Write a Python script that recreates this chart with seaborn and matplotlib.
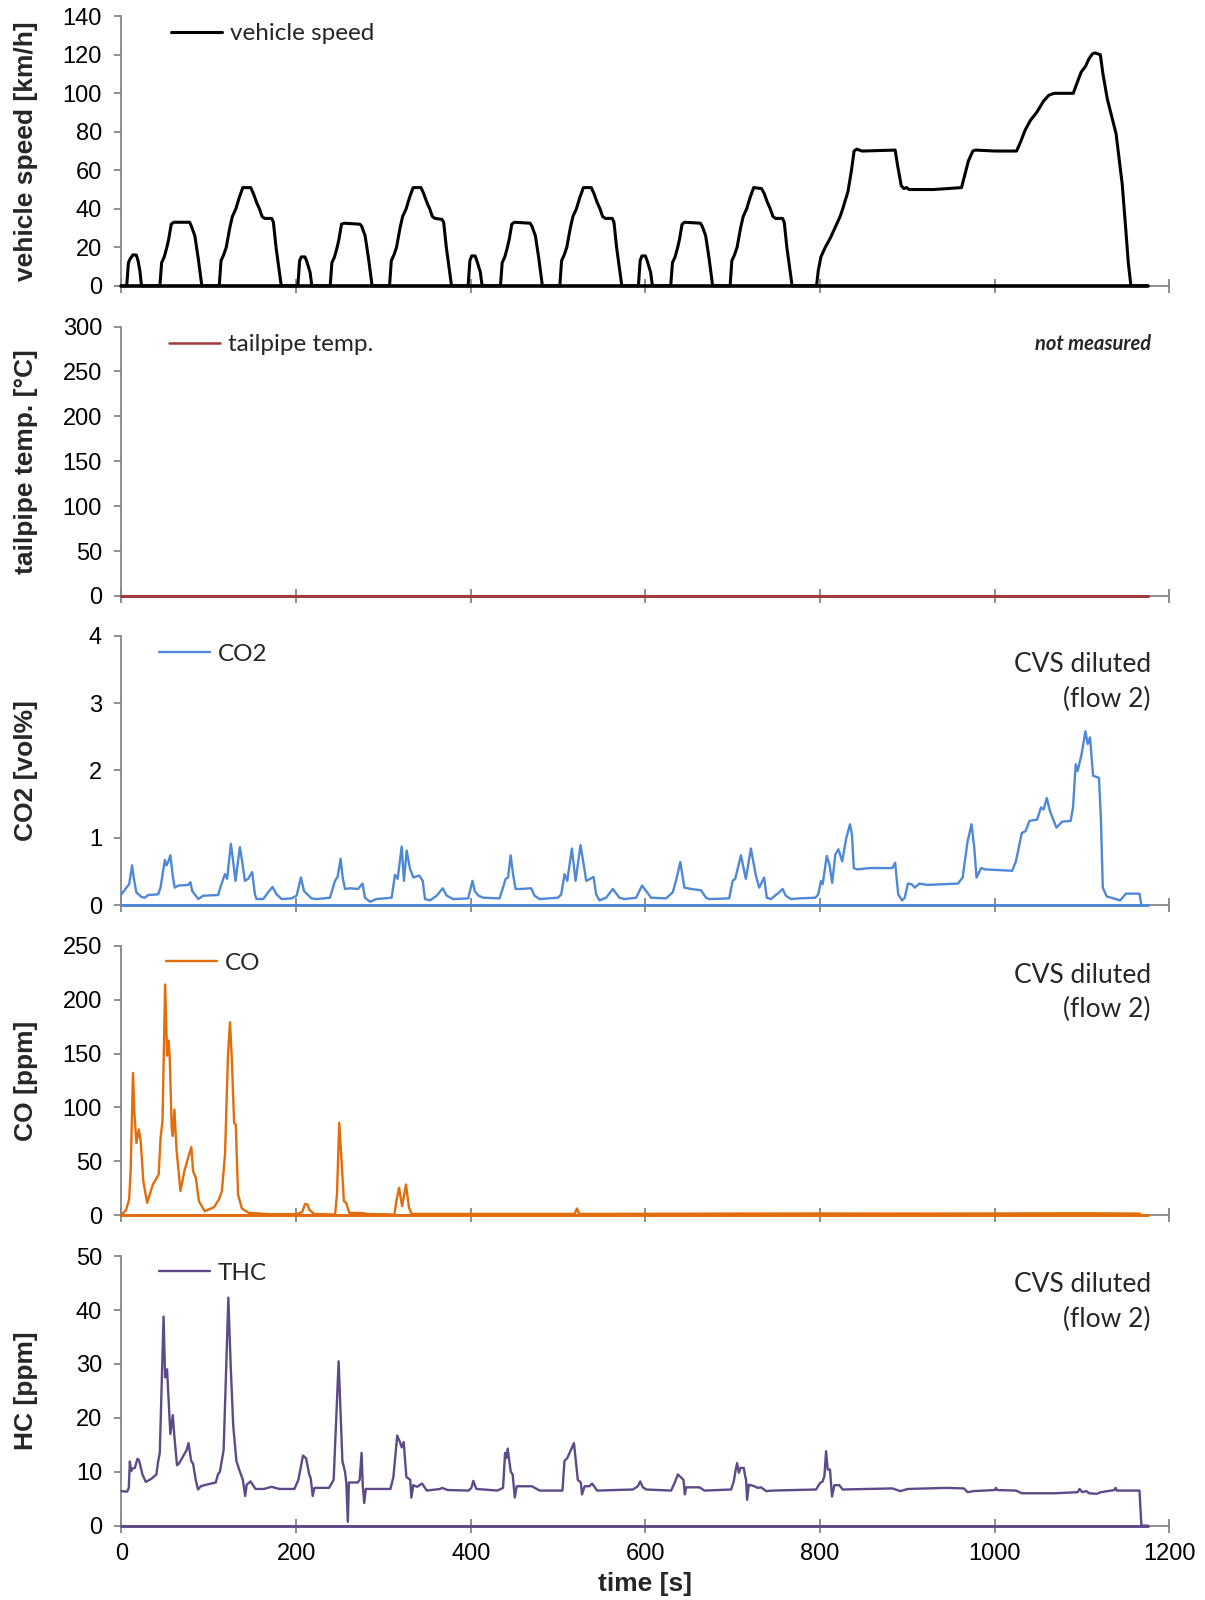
import numpy as np
import matplotlib
matplotlib.use("Agg")
import matplotlib.pyplot as plt
import seaborn as sns

# ---------------- data ----------------
speed_t = [0, 6, 8, 10, 13, 17, 19, 21, 23, 44, 46, 49, 52, 54, 57, 60, 78, 80, 84, 88, 92,
           112, 114, 117, 120, 124, 127, 131, 135, 139, 148, 151, 155, 158, 161, 164, 172, 174, 177, 180, 183,
           202, 204, 206, 210, 212, 216, 218, 239, 241, 244, 247, 249, 252, 255, 273, 275, 279, 283, 287,
           307, 309, 312, 315, 319, 322, 326, 330, 334, 343, 346, 350, 353, 356, 359, 367, 369, 372, 375, 378,
           397, 399, 401, 405, 407, 411, 413, 434, 436, 439, 442, 444, 447, 450, 468, 470, 474, 478, 482,
           502, 504, 507, 510, 514, 517, 521, 525, 529, 538, 541, 545, 548, 551, 554, 562, 564, 567, 570, 573,
           592, 594, 596, 600, 602, 606, 608, 629, 631, 634, 637, 639, 642, 645, 663, 665, 669, 673, 677,
           697, 699, 702, 705, 709, 712, 716, 720, 724, 733, 736, 740, 743, 746, 749, 757, 759, 762, 765, 768,
           796, 798, 801, 806, 812, 818, 823, 826, 832, 836, 839, 842, 848, 886, 889, 893, 896, 899, 902, 930,
           962, 966, 970, 975, 978, 1000, 1025, 1029, 1035, 1041, 1048, 1056, 1062, 1068, 1090, 1094, 1099,
           1104, 1108, 1112, 1115, 1121, 1124, 1129, 1134, 1139, 1142, 1146, 1150, 1153, 1156, 1175]
speed_v = [0, 0, 12, 14, 16, 16, 13, 8, 0, 0, 12, 15, 20, 24, 32, 33, 33, 31, 26, 14, 0,
           0, 13, 16, 20, 30, 36, 40, 46, 51, 51, 48, 43, 40, 36, 35, 35, 33, 20, 10, 0,
           0, 13, 15, 15, 13, 7, 0, 0, 12, 15, 20, 24, 32, 32.5, 32, 31, 26, 14, 0,
           0, 13, 16, 20, 30, 36, 40, 46, 51, 51, 48, 43, 40, 36, 35, 34.5, 33, 20, 10, 0,
           0, 13, 15.5, 15.5, 13, 7, 0, 0, 12, 15, 20, 24, 32, 33, 32.5, 31, 26, 14, 0,
           0, 13, 16, 20, 30, 36, 40, 46, 51, 51, 48, 43, 40, 36, 35, 35, 33, 20, 10, 0,
           0, 13, 15.5, 15.5, 13, 7, 0, 0, 12, 15, 20, 24, 32, 33, 32.5, 31, 26, 14, 0,
           0, 13, 16, 20, 30, 36, 40, 46, 51, 50.5, 48, 43, 40, 36, 35, 35, 33, 20, 10, 0,
           0, 8, 15, 20, 25, 31, 36, 40, 49, 60, 70, 71, 70, 70.5, 62, 52, 50.5, 51, 50, 50,
           51, 58, 65, 70, 70.5, 70, 70, 74, 81, 86, 90, 96, 99, 100, 100, 105, 111,
           114, 118, 120.5, 121, 120, 110, 97, 88, 79, 68, 53, 30, 12, 0, 0]

temp_t = [0, 1175]
temp_v = [0, 0]

co2_t = [0, 5.7, 8.8, 12.2, 14, 17, 23, 26.7, 30.6, 42, 44.7, 49.7, 51.6, 53.5, 56, 59, 61, 65, 76.4, 79, 81, 88,
         93.6, 110.8, 112.7, 118.4, 121, 125.3, 128, 130.6, 135.6, 138.7, 141.3, 145, 149.7, 152.8, 154.7,
         162.4, 168, 173, 177.6, 183.4, 194.8, 200.6, 205.5, 209, 212.8, 217.7, 223.5, 238.8, 244.5, 247.5,
         251, 253.3, 256, 261.7, 271, 276, 278.9, 284.6, 292, 309.4, 313.2, 316.3, 320.9, 323.5, 326.6,
         330.4, 334.3, 341, 345, 347.6, 353.3, 361, 367.9, 372.5, 380, 397, 402, 404.6, 408.7, 414.5, 433,
         440, 442.7, 445.7, 448.4, 451.4, 458, 469.3, 473, 478.9, 499.8, 503.6, 507.4, 510.5, 515.8, 520,
         525.7, 529.5, 532.2, 536.8, 540.6, 543.6, 547.4, 555, 562.7, 570.3, 576, 589.4, 596.2, 600.8,
         606.5, 623.6, 631.3, 635, 640, 644.6, 652.2, 663.7, 669.4, 673.2, 696, 699.9, 702.9, 709.4, 715,
         720.8, 726.5, 730.3, 736, 739, 743.7, 753.2, 757, 760.8, 766.5, 776, 794.5, 798, 801, 803, 807.7,
         810.8, 813.9, 817.5, 821, 825.4, 829.8, 834.3, 836.5, 838.7, 843, 856.4, 883, 886, 889.5, 893.9,
         897, 900.6, 905, 908.5, 913.8, 922.7, 958, 963.3, 969, 973.5, 976.6, 979.2, 984.5, 989, 1020,
         1024.3, 1031, 1035.4, 1039.8, 1048.6, 1053, 1056, 1059.7, 1063.2, 1070.7, 1077.4, 1087, 1089.7,
         1092.8, 1095, 1099.5, 1103.9, 1106.5, 1109.2, 1112.7, 1119.4, 1121.6, 1123.8, 1128.2, 1143.7,
         1150.3, 1165.8, 1168, 1175]
co2_v = [0.16, 0.26, 0.31, 0.59, 0.41, 0.19, 0.12, 0.11, 0.15, 0.16, 0.26, 0.67, 0.59, 0.64, 0.74, 0.41, 0.26,
         0.29, 0.30, 0.34, 0.21, 0.09, 0.14, 0.15, 0.24, 0.46, 0.39, 0.91, 0.64, 0.36, 0.86, 0.61, 0.36, 0.39,
         0.49, 0.16, 0.09, 0.09, 0.19, 0.27, 0.16, 0.09, 0.10, 0.14, 0.41, 0.21, 0.16, 0.10, 0.09, 0.11, 0.36,
         0.42, 0.69, 0.41, 0.24, 0.25, 0.24, 0.32, 0.11, 0.05, 0.09, 0.11, 0.45, 0.39, 0.87, 0.36, 0.81, 0.54,
         0.41, 0.44, 0.36, 0.09, 0.07, 0.14, 0.25, 0.14, 0.09, 0.10, 0.36, 0.21, 0.14, 0.11, 0.10, 0.39, 0.41,
         0.74, 0.46, 0.24, 0.24, 0.25, 0.14, 0.09, 0.11, 0.16, 0.46, 0.36, 0.84, 0.36, 0.89, 0.59, 0.36, 0.39,
         0.42, 0.16, 0.07, 0.11, 0.24, 0.11, 0.09, 0.11, 0.29, 0.21, 0.11, 0.10, 0.19, 0.36, 0.64, 0.26, 0.24,
         0.22, 0.11, 0.09, 0.10, 0.36, 0.39, 0.74, 0.39, 0.84, 0.44, 0.26, 0.41, 0.11, 0.09, 0.19, 0.24, 0.14,
         0.09, 0.10, 0.11, 0.16, 0.36, 0.31, 0.73, 0.60, 0.33, 0.75, 0.83, 0.65, 0.98, 1.20, 1.05, 0.55, 0.53,
         0.55, 0.55, 0.63, 0.16, 0.07, 0.11, 0.32, 0.31, 0.26, 0.32, 0.30, 0.32, 0.41, 0.95, 1.20, 0.85, 0.41,
         0.55, 0.53, 0.51, 0.65, 1.07, 1.10, 1.25, 1.27, 1.45, 1.42, 1.59, 1.40, 1.15, 1.24, 1.25, 1.45, 2.09,
         1.99, 2.24, 2.58, 2.39, 2.49, 1.92, 1.89, 1.30, 0.26, 0.13, 0.07, 0.17, 0.17, 0.0, 0.0]

co_t = [0, 5.3, 8.8, 10.5, 13.2, 14.9, 17.1, 19.8, 22, 25, 29.4, 36, 42.6, 44.8, 47, 50, 52.3, 54, 55.3, 57.5,
        58.8, 60.6, 63.2, 67.6, 72, 76.4, 80, 82, 85.2, 88.7, 95.3, 106, 111.5, 115, 118.6, 122, 124.3, 126.5,
        129, 130.9, 133.5, 137.9, 145.8, 168, 200.7, 207, 210.3, 213, 215, 220.4, 244.6, 246.8, 249.4, 251.6,
        254.7, 257.3, 260.8, 277.5, 279.7, 312.6, 314.8, 317.9, 321.4, 325.8, 329.3, 332.4, 519, 521.6, 524.2,
        600, 700, 800, 900, 1000, 1100, 1166, 1168, 1175]
co_v = [0, 5, 14.6, 40.9, 132, 93.6, 67, 79.6, 68.8, 31.6, 11.5, 28.5, 37.8, 71.9, 87.4, 214, 148, 162, 146, 81,
        73.4, 98, 59.5, 22.3, 40.9, 53.3, 63.2, 40.9, 34.7, 13, 3.7, 7.4, 14.6, 22.3, 56.4, 149, 179, 143,
        85.8, 84, 19.2, 6.2, 2.2, 1, 1, 3, 10.5, 9.9, 5.3, 1.2, 0.6, 19.2, 85.8, 56.4,
        13, 11.5, 2.2, 1.9, 1.2, 0.6, 13, 25.4, 8.4, 28.5, 6.8, 1.2, 1.2, 6.2, 1.2,
        1.3, 1.5, 1.6, 1.5, 1.6, 1.8, 1.5, 0, 0]

hc_t = [0, 6.5, 8.4, 9.6, 11, 12.6, 15.3, 18.3, 20.2, 24, 27.9, 34.4, 40, 42, 43.9, 46.6, 48.2, 50, 52.2, 56,
        58.8, 60.5, 63.6, 65.8, 74.6, 76.8, 79.8, 82, 85, 87.7, 90.8, 97.4, 108, 110.5, 112.7, 117, 120, 122.4,
        125, 128, 131.6, 134.6, 139, 141.7, 143.4, 147.8, 153.5, 163, 172, 180.7, 198, 202.6, 207.9, 211.4,
        215, 216.7, 219, 221, 237.7, 243, 248.7, 253, 256, 257.5, 259.2, 260.5, 270.6, 272.8, 275, 276.3,
        278, 279.8, 308, 311.4, 315.8, 318.9, 321, 323.2, 326.3, 330.7, 332, 334.2, 338.6, 344.3, 349.6,
        365, 367, 373.5, 397.6, 400.7, 402.9, 406.4, 430.5, 437, 439.3, 440.6, 442.3, 445.8, 448, 450.4,
        452.6, 470, 479, 505, 507.3, 510.4, 516, 518.2, 522.6, 526, 527.4, 530.4, 535.7, 539, 544.7,
        585.7, 591.4, 594, 597.1, 601, 629.5, 633.4, 637.2, 641, 643.6, 645.2, 646.7, 662, 667.7, 698.2,
        701.2, 703.1, 705, 707, 708.9, 712.7, 714.2, 715.3, 716.5, 718.4, 724.9, 728.7, 732.5, 738.2,
        745.8, 795.4, 800, 803, 805, 806.9, 808.8, 811.4, 813.7, 816.4, 822.1, 826, 883, 891.7, 900.6,
        944.8, 964.7, 969, 975.7, 1000, 1001.3, 1002.7, 1024.3, 1031, 1068.5, 1095, 1097.2, 1100.3, 1104.8,
        1108.3, 1117, 1121.6, 1137, 1138.4, 1140, 1165.8, 1168, 1175]
hc_v = [6.4, 6.3, 7.0, 11.9, 10.1, 10.6, 10.7, 12.4, 12.1, 9.5, 8.1, 8.7, 9.5, 11.9, 13.5, 29.3, 38.8, 27.5, 29, 17,
        20.5, 16.7, 11.2, 11.5, 14, 15.3, 12, 11.5, 8.5, 6.7, 7.3, 7.6, 8, 9.5, 10, 14, 30, 42.3,
        30, 18.5, 12, 10.5, 8.5, 5.5, 7.6, 8.2, 6.8, 6.8, 7.2, 6.8, 6.8, 8.5, 13, 12.5,
        9.5, 8.8, 5.5, 7, 7, 8.5, 30.5, 12, 10, 8, 0.7, 8, 8, 8.5, 13.5, 7.5,
        4.2, 6.8, 6.8, 9, 16.7, 15.5, 14.5, 15.5, 9, 8.5, 5.2, 7.5, 7.2, 7.8, 6.5,
        6.8, 7, 6.6, 6.5, 7, 8.3, 6.8, 6.5, 7, 13.5, 12.5, 14.3, 10, 9.5, 5.2,
        7.3, 7.3, 6.5, 6.5, 12, 12.5, 14.5, 15.3, 8.5, 8, 5.8, 7.3, 7.3, 7.8, 6.5,
        6.7, 7.3, 8.2, 7.1, 6.7, 6.5, 7.9, 9.5, 8.9, 8.5, 5.8, 7.1, 7.1, 6.5, 6.7,
        8.2, 10.1, 11.6, 9.8, 10.7, 10.7, 9.2, 8.5, 4.8, 7.6, 7.3, 7.0, 7.1, 6.4,
        6.5, 6.7, 7.9, 8.2, 9.2, 13.8, 10.4, 10.4, 5.4, 7.5, 7.5, 6.7, 6.9, 6.4, 6.8,
        7.0, 6.9, 6.2, 6.4, 6.6, 7.0, 6.6, 6.5, 6.0, 6.0, 6.2, 6.8, 6.2, 6.4,
        6.0, 5.9, 6.2, 6.6, 7.0, 6.5, 6.5, 0, 0]

# zero line drawn by each series back along the time axis
base_t = [0, 1175]
base_v = [0, 0]

series_names = ["vehicle speed", "tailpipe temp.", "CO2", "CO", "THC"]
y_labels = ["vehicle speed [km/h]", "tailpipe temp. [°C]", "CO2 [vol%]", "CO [ppm]", "HC [ppm]"]
y_max = [140, 300, 4, 250, 50]
y_step = [20, 50, 1, 50, 10]
x_ticks = [0, 200, 400, 600, 800, 1000, 1200]

# ---------------- styling ----------------
sns.set_theme(style="white")
plt.rcParams['font.family'] = ['Liberation Sans', 'DejaVu Sans']

colors = ["#000000", "#A23A3D", "#4F88D6", "#E46C0A", "#5E4A88"]
widths = [2.2, 1.8, 1.7, 1.7, 1.7]
axis_gray = "#868686"

fig = plt.figure(figsize=(12.05, 16), dpi=100)
left, width, h = 0.1008, 0.8696, 0.1684
tops = [0.9898, 0.7959, 0.6027, 0.4089, 0.2149]
axes = [fig.add_axes([left, t - h, width, h]) for t in tops]

data = [(speed_t, speed_v), (temp_t, temp_v), (co2_t, co2_v), (co_t, co_v), (hc_t, hc_v)]
leg_anchor = [(0.0477, 0.936), (0.0458, 0.932), (0.036, 0.932), (0.0428, 0.936), (0.036, 0.936)]

for i, ax in enumerate(axes):
    t, v = data[i]
    sns.lineplot(x=t, y=v, ax=ax, color=colors[i], linewidth=widths[i], estimator=None,
                 sort=False, clip_on=False, zorder=3)
    sns.lineplot(x=base_t, y=base_v, ax=ax, color=colors[i], linewidth=widths[i] + 0.4,
                 estimator=None, sort=False, clip_on=False, zorder=3)
    ax.set_xlim(0, 1200)
    ax.set_ylim(0, y_max[i])
    ax.set_yticks(np.arange(0, y_max[i] + y_step[i] / 2, y_step[i]))
    ax.set_yticklabels([f"{int(round(y))}" for y in np.arange(0, y_max[i] + y_step[i] / 2, y_step[i])])
    ax.set_xticks(x_ticks)
    for s in ["top", "right"]:
        ax.spines[s].set_visible(False)
    for s in ["left", "bottom"]:
        ax.spines[s].set_color(axis_gray)
        ax.spines[s].set_linewidth(1.3)
    ax.tick_params(axis="y", which="major", direction="out", length=5, width=1.3,
                   color=axis_gray, labelsize=17, pad=9, left=True, labelcolor="black")
    ax.tick_params(axis="x", which="major", direction="inout", length=10, width=1.3,
                   color=axis_gray, labelsize=17, pad=7.5, bottom=True, labelcolor="black")
    if i < 4:
        ax.tick_params(axis="x", labelbottom=False)
    ax.set_xlabel("")
    ax.set_ylabel(y_labels[i], fontsize=19, fontweight="bold")
    ax.yaxis.set_label_coords(-0.080, 0.5)
    ax.legend([ax.lines[0]], [series_names[i]], loc="center left", bbox_to_anchor=leg_anchor[i],
              frameon=False, handlelength=2.1, handletextpad=0.3, borderpad=0, borderaxespad=0,
              prop={"family": "Lato", "size": 17.5})
    ax.patch.set_alpha(0)

axes[1].text(0.9825, 0.936, "not measured", transform=axes[1].transAxes, ha="right", va="center",
             fontfamily="Lato", fontweight="bold", fontstyle="italic", fontsize=14.5)
for ax, yc in zip(axes[2:], [0.828, 0.828, 0.830]):
    ax.text(0.9825, yc, "CVS diluted\n(flow 2)", transform=ax.transAxes, ha="right", va="center",
            fontfamily="Lato", fontsize=19, linespacing=1.45)

axes[4].set_xlabel("time [s]", fontsize=19, fontweight="bold", labelpad=5)

fig.savefig("out.png", dpi=100, facecolor="white")
